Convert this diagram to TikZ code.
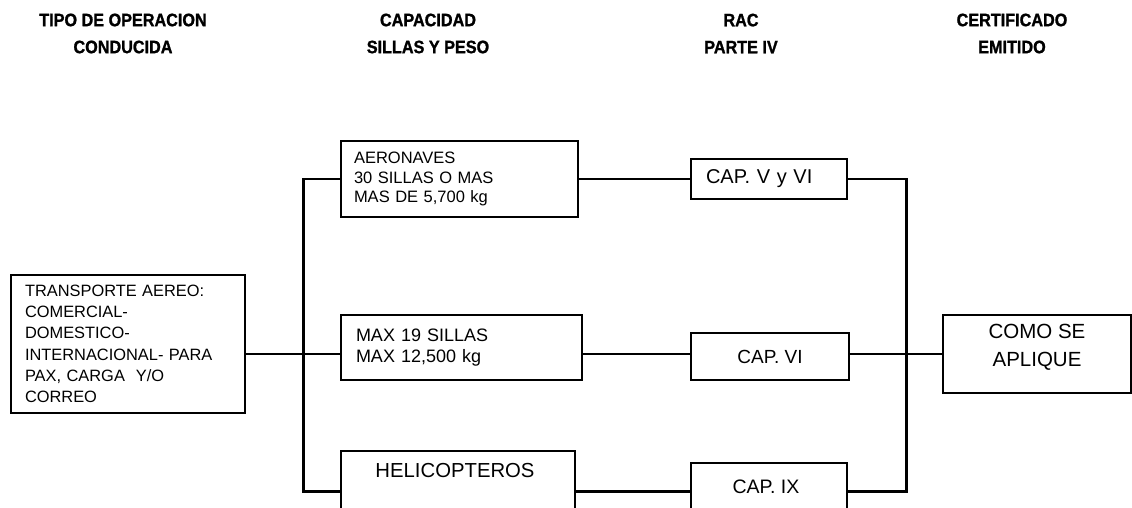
\documentclass[tikz,border=0pt]{standalone}
\usepackage{fontspec}
\setmainfont{Liberation Sans}
\newfontfamily\hdrfont[FakeStretch=0.9,FakeBold=1.2]{Liberation Sans}
\begin{document}
\begin{tikzpicture}[x=1pt,y=-1pt,
  hdr/.style={align=center,inner sep=0pt,font=\hdrfont\bfseries\fontsize{18}{27}\selectfont},
  boxw/.style={draw=black,line width=2pt,inner ysep=0pt,minimum height=#1},
  lbl/.style={inner sep=0pt},
  conn/.style={line width=2pt},
  busl/.style={line width=3pt,line cap=rect}]
\clip (0,0) rectangle (1132,508);
\fill[white] (0,0) rectangle (1132,508);
% headers
\node[hdr] (h1) at (123,33.5) {TIPO DE OPERACION\\CONDUCIDA};
\node[hdr] (h2) at (428,33.5) {CAPACIDAD\\SILLAS Y PESO};
\node[hdr] (h3) at (741,33.5) {RAC\\PARTE IV};
\node[hdr] (h4) at (1012,33.5) {CERTIFICADO\\EMITIDO};
% boxes
\node[boxw=138,text width=206,inner xsep=14,align=left,
  font=\fontsize{16.4}{21.3}\selectfont] (src) at (128,344)
  {TRANSPORTE AEREO:\\COMERCIAL-\\DOMESTICO-\\INTERNACIONAL- PARA\\PAX, CARGA\ \ Y/O\\CORREO};
\node[boxw=76,text width=211,inner xsep=13,align=left,
  font=\fontsize{16.5}{19.5}\selectfont] (aero) at (459.5,179)
  {AERONAVES\\30 SILLAS O MAS\\MAS DE 5,700 kg};
\node[boxw=65,text width=211,inner xsep=15,align=left,
  font=\fontsize{18}{21}\selectfont] (maxb) at (461.5,347.5)
  {MAX 19 SILLAS\\MAX 12,500 kg};
\node[boxw=69,minimum width=234] (heli) at (458,485.5) {};
\node[lbl,font=\fontsize{20.3}{24}\selectfont] (helit) at (455,471) {HELICOPTEROS};
\node[boxw=40,text width=126,inner xsep=15,align=left,font=\fontsize{20}{23}\selectfont] (capv) at (769,179) {CAP. V y VI};
\node[boxw=47,minimum width=158,font=\fontsize{19}{23}\selectfont] (capvi) at (770,356.5) {CAP. VI};
\node[boxw=57,minimum width=156] (capix) at (769,491.5) {};
\node[lbl,font=\fontsize{19.5}{23}\selectfont] (capixt) at (766,487) {CAP. IX};
\node[boxw=78,minimum width=188] (como) at (1037,354) {};
\node[lbl,align=center,font=\fontsize{20.5}{28}\selectfont] (comot) at (1037,347.5) {COMO SE\\APLIQUE};
% bus coordinates
\coordinate (b1t) at (303,179);
\coordinate (b1m) at (303,354);
\coordinate (b1b) at (303,491);
\coordinate (b2t) at (906,179);
\coordinate (b2m) at (906,354);
\coordinate (b2b) at (906,491);
% connectors
\draw[conn] (b1m -| src.east) -- (b1m);
\draw[conn] (b1t) -- (b1t -| aero.west);
\draw[conn] (b1m) -- (b1m -| maxb.west);
\draw[busl] (b1b -| heli.west) -- (b1b) -- (b1t);
\draw[conn] (aero.east) -- (capv.west);
\draw[conn] (b1m -| maxb.east) -- (b1m -| capvi.west);
\draw[busl] (b1b -| heli.east) -- (b1b -| capix.west);
\draw[conn] (capv.east) -- (b2t);
\draw[conn] (b2m -| capvi.east) -- (b2m);
\draw[busl] (b2b -| capix.east) -- (b2b) -- (b2t);
\draw[conn] (b2m) -- (b2m -| como.west);
\end{tikzpicture}
\end{document}
